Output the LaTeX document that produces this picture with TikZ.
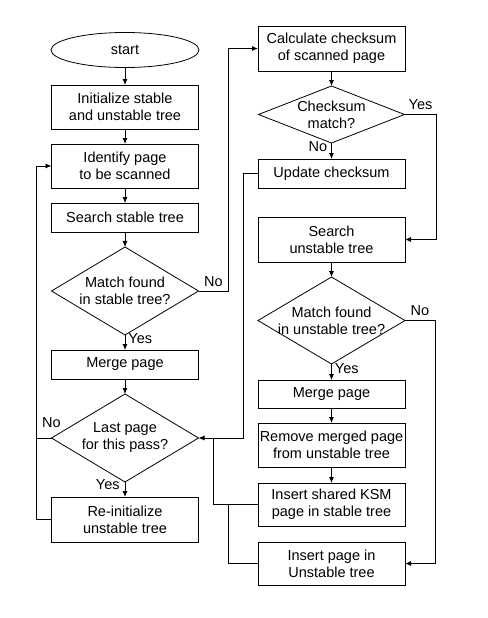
\documentclass[tikz,border=0pt]{standalone}
\usepackage{fontspec}
\setmainfont{Liberation Sans}
\usetikzlibrary{arrows.meta, positioning, shapes, calc}

\begin{document}
\begin{tikzpicture}[x=1pt, y=-1pt,
            font=\fontsize{14.5}{17}\selectfont,
            line width=0.8pt,
            node distance=15pt,
            box/.style={rectangle, draw, minimum width=147pt, minimum height=29pt, align=center, inner sep=1pt, outer sep=0pt},
            tallbox/.style={box, minimum height=44pt},
            decision/.style={diamond, draw, minimum width=147pt, minimum height=88pt, inner sep=0pt, outer sep=0pt},
            terminal/.style={ellipse, draw, minimum width=148pt, minimum height=35pt, outer sep=0pt},
            flow/.style={-{Latex[length=6pt,width=5pt]}},
            lbl/.style={inner sep=1pt},
        ]
            \useasboundingbox (0,0) rectangle (487,618);
            % left column
            \node[terminal] (start) at (125,50) {start};
            \node[tallbox, below=17.5pt of start] (init) {Initialize stable\\and unstable tree};
            \node[tallbox, below=of init] (ident) {Identify page\\to be scanned};
            \node[box, below=of ident] (sst) {Search stable tree};
            \node[decision, below=of sst, label={[align=center]center:Match found\\in stable tree?}] (mst) {};
            \node[box, below=of mst] (mergeA) {Merge page};
            \node[decision, below=of mergeA, label={[align=center]center:Last page\\for this pass?}] (last) {};
            \node[tallbox, minimum height=45pt, below=of last] (reinit) {Re-initialize\\unstable tree};
            % right column
            \node[tallbox, minimum height=45pt] (calc) at (331.5,48.5) {Calculate checksum\\of scanned page};
            \node[decision, minimum width=146pt, minimum height=57pt, below=of calc, label={[align=center]center:Checksum\\match?}] (cks) {};
            \node[box, below=16pt of cks] (upd) {Update checksum};
            \node[tallbox, minimum height=45pt, below=29pt of upd] (sut) {Search\\unstable tree};
            \node[decision, minimum height=87pt, below=of sut, label={[align=center]center:Match found\\in unstable tree?}] (mut) {};
            \node[box, minimum height=28pt, below=16pt of mut] (mergeB) {Merge page};
            \node[tallbox, below=of mergeB] (remove) {Remove merged page\\from unstable tree};
            \node[tallbox, minimum height=43pt, below=16pt of remove] (ksm) {Insert shared KSM\\page in stable tree};
            \node[tallbox, minimum height=43pt, below=16pt of ksm] (ins) {Insert page in\\Unstable tree};

            % straight flow
            \draw[flow] (start) -- (init);
            \draw[flow] (init) -- (ident);
            \draw[flow] (ident) -- (sst);
            \draw[flow] (sst) -- (mst);
            \draw[flow] (mst) -- node[lbl, right=2pt, pos=0.25] {Yes} (mergeA);
            \draw[flow] (mergeA) -- (last);
            \draw[flow] (last) -- node[lbl, left=4pt, pos=0.2] {Yes} (reinit);
            \draw[flow] (calc) -- (cks);
            \draw[flow] (cks) -- node[lbl, left=3pt, pos=0.25] {No} (upd);
            \draw[flow] (sut) -- (mut);
            \draw[flow] (mut) -- node[lbl, right=2pt, pos=0.3] {Yes} (mergeB);
            \draw[flow] (mergeB) -- (remove);
            \draw[flow] (remove) -- (ksm);

            % loops and branches
            \draw[flow] (reinit.west) -- ++(-15,0) |- (ident.west);
            \draw (last.west) -- node[lbl, pos=0, above=9pt] {No} ++(-15,0);
            \draw[flow] (mst.east) -- node[lbl, above=3pt] {No} ++(30,0) |- (calc.west);
            \draw[flow] (cks.east) -- node[lbl, above=3pt] {Yes} ++(32,0) |- (sut.east);
            \draw[flow] (upd.west) -- ++(-15,0) |- (last.east);
            \draw[flow] (mut.east) -- node[lbl, above=3pt] {No} ++(30,0) |- (ins.east);
            \draw (ksm.west) -- ++(-45,0) coordinate (jA) -- (jA |- last.east);
            \draw (ins.west) -- ++(-30,0) coordinate (jB) -- (jB |- ksm.west);
        \end{tikzpicture}
\end{document}
